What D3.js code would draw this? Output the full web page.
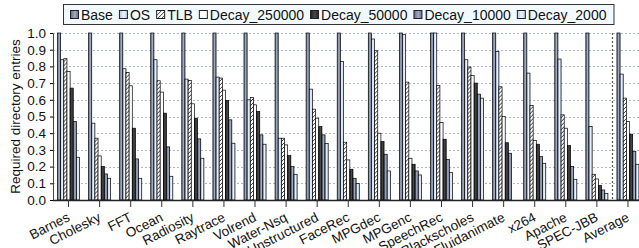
<!DOCTYPE html>
<html>
<head>
<meta charset="utf-8">
<script src="https://cdn.jsdelivr.net/npm/d3@7"></script>
<style>
  body { margin: 0; background: #fff; }
  svg { display: block; font-family: "Liberation Sans", Arial, sans-serif; }
</style>
</head>
<body>
<div id="viz"></div>
<script>
// data
var categories = ["Barnes", "Cholesky", "FFT", "Ocean", "Radiosity", "Raytrace", "Volrend",
  "Water-Nsq", "Unstructured", "FaceRec", "MPGdec", "MPGenc", "SpeechRec", "Blackscholes",
  "Fluidanimate", "x264", "Apache", "SPEC-JBB", "Average"];
var seriesNames = ["Base", "OS", "TLB", "Decay_250000", "Decay_50000", "Decay_10000", "Decay_2000"];

var base = [1, 1, 1, 1, 1, 1, 1, 1, 1, 1, 1, 1, 1, 1, 1, 1, 1, 1, 1];
var os = [0.84, 0.46, 0.786, 0.84, 0.724, 0.736, 0.60, 0.37, 0.664, 0.83, 0.964, 0.99, 1.0, 0.84, 0.89, 0.76, 0.844, 0.44, 0.754];
var tlb = [0.846, 0.37, 0.764, 0.714, 0.716, 0.73, 0.614, 0.37, 0.544, 0.346, 0.894, 0.706, 0.686, 0.796, 0.678, 0.566, 0.51, 0.154, 0.61];
var decay250000 = [0.77, 0.264, 0.684, 0.646, 0.576, 0.658, 0.57, 0.33, 0.49, 0.24, 0.40, 0.25, 0.464, 0.746, 0.50, 0.356, 0.43, 0.126, 0.47];
var decay50000 = [0.67, 0.20, 0.43, 0.52, 0.49, 0.596, 0.53, 0.266, 0.44, 0.184, 0.35, 0.214, 0.364, 0.70, 0.343, 0.334, 0.326, 0.088, 0.394];
var decay10000 = [0.47, 0.156, 0.246, 0.318, 0.366, 0.48, 0.39, 0.20, 0.39, 0.13, 0.274, 0.174, 0.242, 0.634, 0.28, 0.26, 0.20, 0.06, 0.29];
var decay2000 = [0.256, 0.13, 0.13, 0.142, 0.25, 0.34, 0.334, 0.154, 0.338, 0.098, 0.174, 0.15, 0.164, 0.61, 0, 0.22, 0.124, 0.04, 0.214];
var yTicks = [0, 0.1, 0.2, 0.3, 0.4, 0.5, 0.6, 0.7, 0.8, 0.9, 1.0];

var series = [base, os, tlb, decay250000, decay50000, decay10000, decay2000];
var fills = ["url(#gBlue)", "url(#gLight)", "url(#hatch)", "#ffffff", "url(#gDark)", "url(#gBlue)", "url(#gLight)"];

var width = 639, height = 248;
var plotLeft = 53, plotRight = 643.5, plotTop = 33, plotBottom = 200;

var svg = d3.select('#viz').append('svg')
  .attr('width', width)
  .attr('height', height);

var defs = svg.append('defs');
function grad(id, edge, mid) {
  var g = defs.append('linearGradient').attr('id', id)
    .attr('x1', '0%').attr('x2', '100%').attr('y1', '0%').attr('y2', '0%');
  g.append('stop').attr('offset', '0%').attr('stop-color', edge);
  g.append('stop').attr('offset', '55%').attr('stop-color', mid);
  g.append('stop').attr('offset', '100%').attr('stop-color', edge);
}
grad('gBlue', '#5d6882', '#a3adc4');
grad('gLight', '#b5c4dc', '#eef4ff');
grad('gDark', '#1e1e1e', '#4a4a4a');
var pat = defs.append('pattern').attr('id', 'hatch')
  .attr('patternUnits', 'userSpaceOnUse').attr('width', 4).attr('height', 4);
pat.append('rect').attr('width', 4).attr('height', 4).attr('fill', '#ffffff');
pat.append('path').attr('d', 'M0,4 L4,0 M-1,1 L1,-1 M3,5 L5,3')
  .attr('stroke', '#222').attr('stroke-width', 0.9);

var x0 = d3.scaleBand().domain(categories).range([plotLeft, plotRight])
  .paddingInner(0.29).paddingOuter(0.145);
var x1 = d3.scaleBand().domain(seriesNames).range([0, x0.bandwidth()]);
var y = d3.scaleLinear().domain([0, 1]).range([plotBottom, plotTop]);

// grid
svg.append('g').selectAll('line').data(yTicks.slice(1)).enter().append('line')
  .attr('x1', plotLeft).attr('x2', width)
  .attr('y1', function(d) { return Math.round(y(d)) + 0.5; })
  .attr('y2', function(d) { return Math.round(y(d)) + 0.5; })
  .attr('stroke', '#a9b7d4').attr('stroke-width', 1)
  .attr('stroke-dasharray', '2,2');

// separator before Average
var sepX = x0('Average') - x0.step() * 0.29 / 2;
svg.append('line')
  .attr('x1', Math.round(sepX) + 0.5).attr('x2', Math.round(sepX) + 0.5)
  .attr('y1', plotTop).attr('y2', plotBottom)
  .attr('stroke', '#555').attr('stroke-width', 1.2).attr('stroke-dasharray', '2,2');

// bars
var groups = svg.append('g').selectAll('g').data(categories).enter().append('g')
  .attr('transform', function(d) { return 'translate(' + x0(d) + ',0)'; });
groups.selectAll('rect')
  .data(function(d, i) {
    return seriesNames.map(function(s, j) { return { s: s, j: j, v: series[j][i] }; });
  })
  .enter().append('rect')
  .attr('x', function(d) { return x1(d.s); })
  .attr('width', x1.bandwidth())
  .attr('y', function(d) { return y(d.v); })
  .attr('height', function(d) { return y(0) - y(d.v); })
  .attr('fill', function(d) { return fills[d.j]; })
  .attr('stroke', '#000').attr('stroke-width', 0.7);

// axes
var yAxis = svg.append('g').attr('transform', 'translate(' + plotLeft + ',0)')
  .call(d3.axisLeft(y).tickValues(yTicks).tickFormat(d3.format('.1f')).tickSize(3).tickPadding(4));
yAxis.select('.domain').attr('stroke', '#444');
yAxis.selectAll('text').attr('font-size', 13.5).attr('fill', '#111');

var xAxis = svg.append('g').attr('transform', 'translate(0,' + plotBottom + ')')
  .call(d3.axisBottom(x0).tickSize(7).tickSizeOuter(0).tickPadding(0));
xAxis.select('.domain').attr('stroke', '#222').attr('stroke-width', 1.5)
  .attr('d', 'M' + plotLeft + ',0.5H' + width);
xAxis.selectAll('.tick line').attr('stroke', '#333');
xAxis.selectAll('text')
  .attr('font-size', 13.5).attr('fill', '#111')
  .attr('text-anchor', 'end')
  .attr('dy', 0)
  .attr('transform', 'translate(-1,14) rotate(-27)');

svg.append('text')
  .attr('transform', 'translate(20,' + ((plotTop + plotBottom) / 2) + ') rotate(-90)')
  .attr('text-anchor', 'middle')
  .attr('font-size', 13.5).attr('fill', '#111')
  .text('Required directory entries');

// legend
var legend = svg.append('g');
var box = legend.append('rect')
  .attr('y', 4.5).attr('height', 20)
  .attr('fill', '#f3faff').attr('stroke', '#333').attr('stroke-width', 1);
var cx = 0;
var items = legend.append('g');
seriesNames.forEach(function(name, j) {
  var it = items.append('g').attr('transform', 'translate(' + cx + ',0)');
  it.append('rect').attr('x', 0.5).attr('y', 10.5).attr('width', 8).attr('height', 8)
    .attr('fill', fills[j]).attr('stroke', '#222').attr('stroke-width', 1);
  var t = it.append('text').attr('x', 11).attr('y', 19.5)
    .attr('font-size', 14).attr('fill', '#111').text(name);
  cx += 11 + t.node().getComputedTextLength() + 6;
});
var total = cx - 6;
items.attr('transform', 'translate(70,0)');
box.attr('x', 63.5).attr('width', total + 14);
</script>
</body>
</html>
